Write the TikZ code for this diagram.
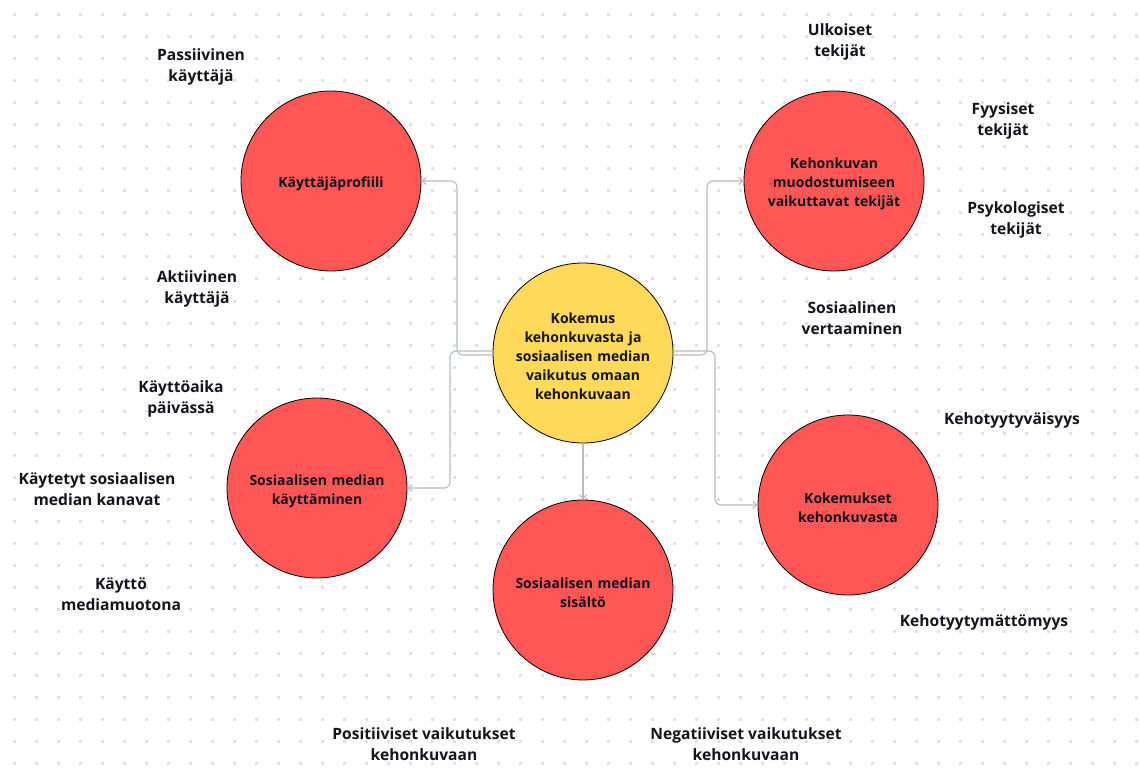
\documentclass[tikz,border=0pt]{standalone}
\usepackage{fontspec}
\setmainfont{Open Sans}
\usetikzlibrary{arrows.meta}
\definecolor{hub}{RGB}{255,217,90}
\definecolor{topic}{RGB}{255,86,86}
\definecolor{wire}{RGB}{178,190,200}
\definecolor{griddot}{RGB}{222,226,232}
\definecolor{ink}{RGB}{20,20,30}
% lower a bubble's text a little without changing the box it occupies
\newcommand{\sinktext}[1]{\raisebox{-3pt}[\height][\depth]{\parbox{150pt}{\centering #1}}}
\tikzset{
  bubble/.style={circle, draw=black, line width=0.8pt, minimum size=180pt, inner sep=0pt,
    align=center, text width=150pt, font=\bfseries\fontsize{14}{19}\selectfont, text=ink},
  hubbubble/.style={bubble, fill=hub},
  topicbubble/.style={bubble, fill=topic},
  note/.style={align=center, font=\bfseries\fontsize{15.6}{21.5}\selectfont, text=ink, inner sep=0pt},
  link/.style={draw=wire, line width=1.1pt, rounded corners=6pt,
    -{Straight Barb[length=4pt,width=7pt]}}
}
\begin{document}
\begin{tikzpicture}[x=1pt,y=-1pt]
\useasboundingbox (0,0) rectangle (1139,783);
\fill[white] (0,0) rectangle (1139,783);
% dotted canvas
\foreach \i in {0,...,51}{
  \foreach \j in {0,...,35}{
    \fill[griddot] ({14+22*\i-1.5},{15+22*\j-1.5}) rectangle ++(3,3);
  }
}
% bubbles
\node[hubbubble] (hub) at (583,353) {\sinktext{Kokemus\\kehonkuvasta ja\\sosiaalisen median\\vaikutus omaan\\kehonkuvaan}};
\node[topicbubble] (profile) at (331,181) {\sinktext{Käyttäjäprofiili}};
\node[topicbubble] (factors) at (834,181) {\sinktext{Kehonkuvan\\muodostumiseen\\vaikuttavat tekijät}};
\node[topicbubble] (usage) at (317,488) {\sinktext{Sosiaalisen median\\käyttäminen}};
\node[topicbubble] (experience) at (848,505) {\sinktext{Kokemukset\\kehonkuvasta}};
\node[topicbubble] (content) at (583,590) {\sinktext{Sosiaalisen median\\sisältö}};
% connectors
\draw[link] ([yshift=-2pt]hub.west) -| (457,200) |- (profile.east);
\draw[link] ([yshift=2pt]hub.west) -| (450,470) |- (usage.east);
\draw[link] ([yshift=-2pt]hub.east) -| (707,200) |- (factors.west);
\draw[link] ([yshift=2pt]hub.east) -| (715,480) |- (experience.west);
\draw[link] (hub.south) -- (content.north);
% free labels
\node[note] (passive) at (201,67) {Passiivinen\\käyttäjä};
\node[note] (active) at (197,289) {Aktiivinen\\käyttäjä};
\node[note] (dailytime) at (181,399) {Käyttöaika\\päivässä};
\node[note] (channels) at (97,489) {Käytetyt sosiaalisen\\median kanavat};
\node[note] (mediaform) at (121,594) {Käyttö\\mediamuotona};
\node[note] (positive) at (424,744) {Positiiviset vaikutukset\\kehonkuvaan};
\node[note] (negative) at (746,744) {Negatiiviset vaikutukset\\kehonkuvaan};
\node[note] (external) at (840,42) {Ulkoiset\\tekijät};
\node[note] (physical) at (1003,121) {Fyysiset\\tekijät};
\node[note] (psych) at (1016,220) {Psykologiset\\tekijät};
\node[note] (social) at (852,318) {Sosiaalinen\\vertaaminen};
\node[note] (satisfied) at (1012,420) {Kehotyytyväisyys};
\node[note] (dissatisfied) at (984,622) {Kehotyytymättömyys};
\end{tikzpicture}
\end{document}
